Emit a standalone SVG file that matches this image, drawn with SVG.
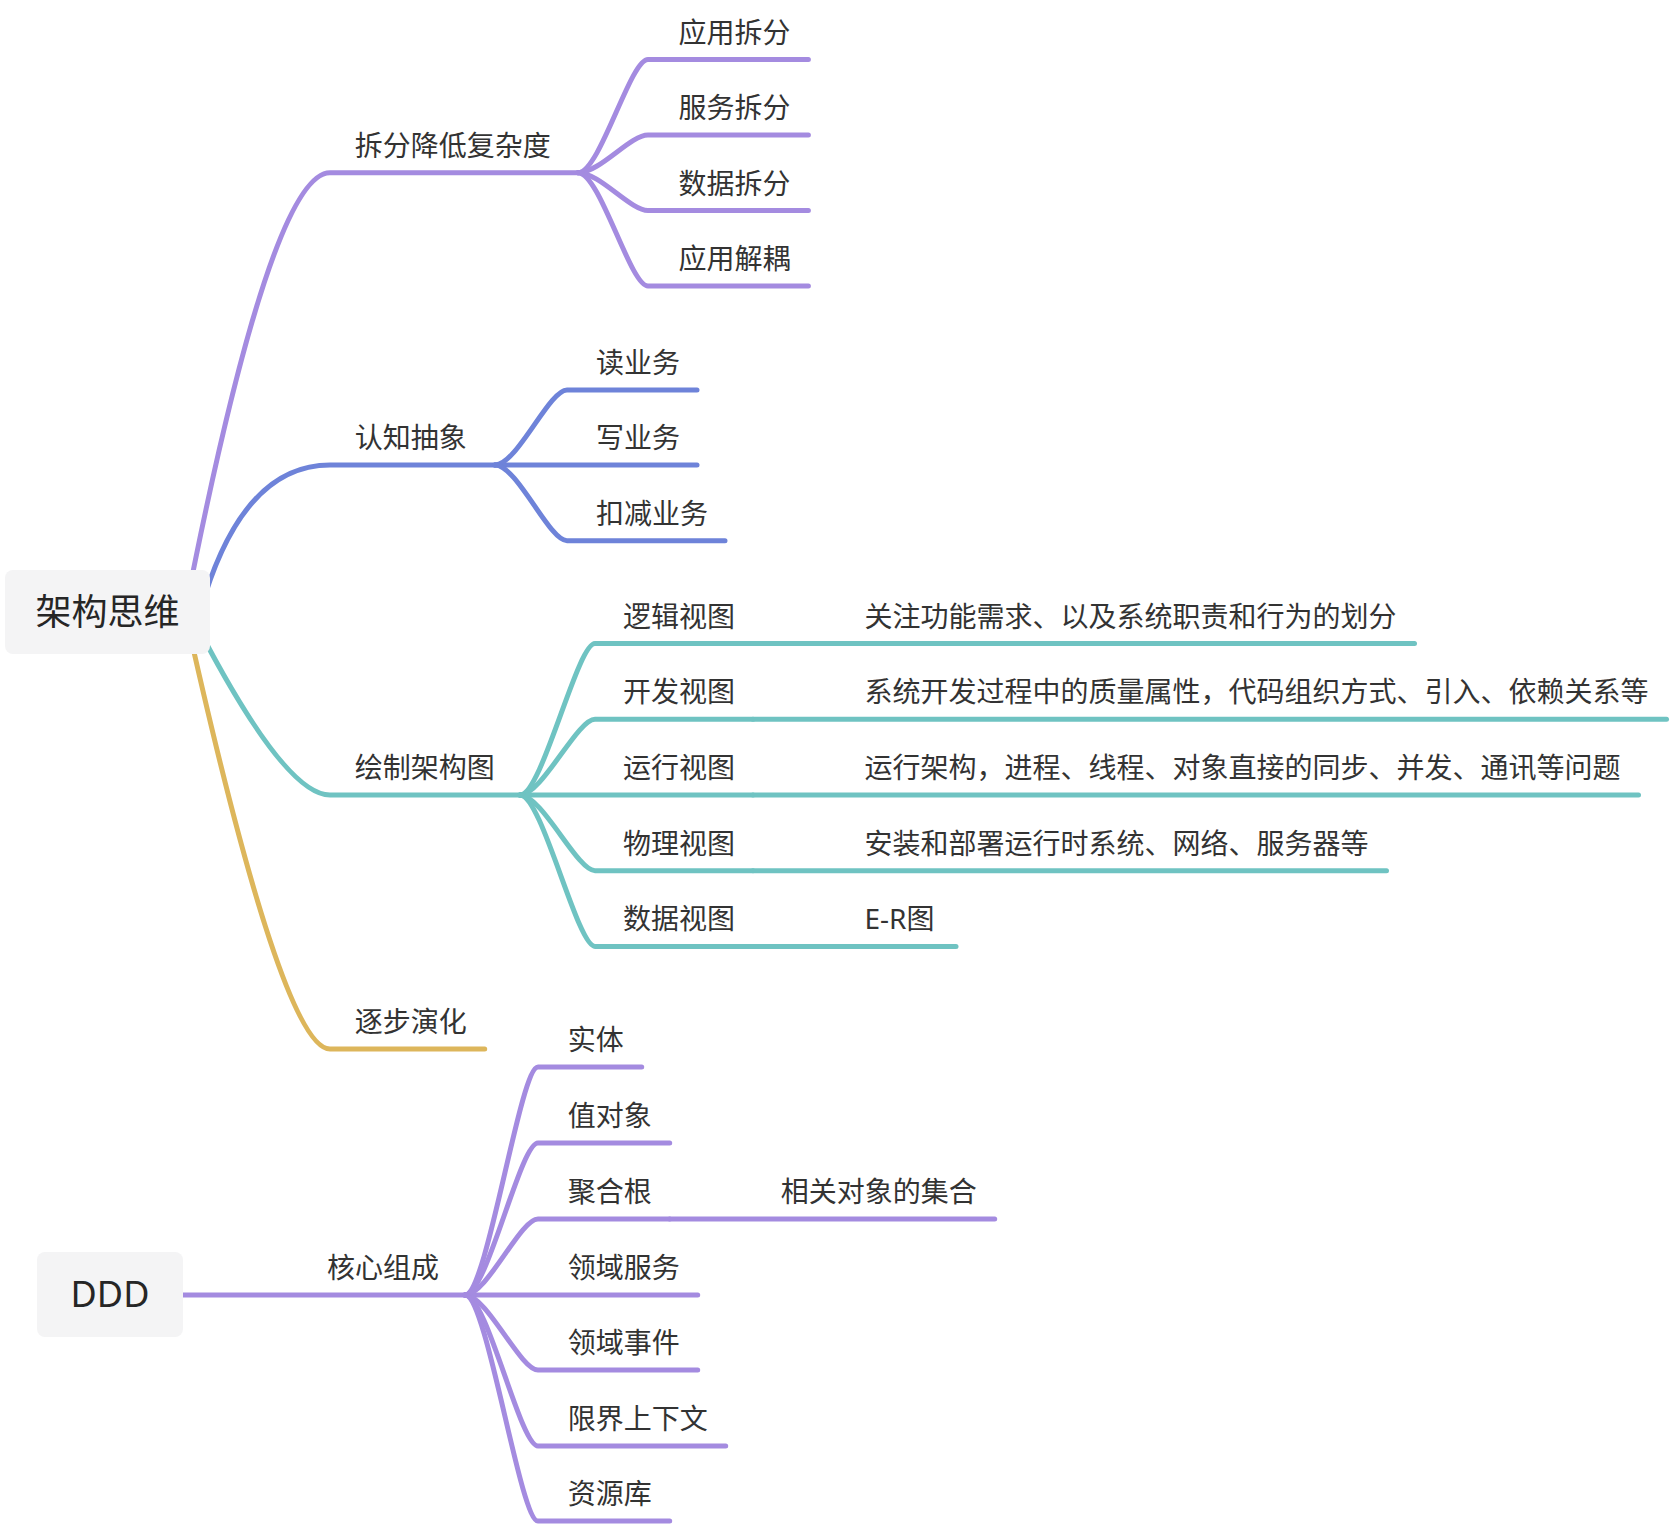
<svg xmlns="http://www.w3.org/2000/svg" width="1670" height="1526" viewBox="0 0 1670 1526">
<style>
.t{font-family:"Noto Sans CJK SC","Liberation Sans",sans-serif;font-size:28px;fill:#333333}
.r{font-family:"Noto Sans CJK SC","Liberation Sans",sans-serif;font-size:36px;fill:#262626;text-anchor:middle}
.l{font-family:"Noto Sans","Noto Sans CJK SC",sans-serif}
.c{fill:none;stroke-width:5;stroke-linecap:round;stroke-linejoin:round}
.p{stroke:#a48be0}
.b{stroke:#6e83d9}
.g{stroke:#6fc3c2}
.y{stroke:#ddb65b}
.box{fill:#f4f4f5}
</style>
<rect width="1670" height="1526" fill="#ffffff"/>
<g id="connectors">
  <path class="c p" d="M185 612 Q271 172.7 330 172.7 L578 172.7"/>
  <path class="c b" d="M200 612 Q241 465 330 465 L495 465"/>
  <path class="c g" d="M190 612 Q283 795 330 795 L520 795"/>
  <path class="c y" d="M185 612 Q282 1049 330 1049 L484.7 1049"/>
  <path class="c p" d="M578 172.7 C600 172.7 630 59.5 648 59.5 L808.4 59.5"/>
  <path class="c p" d="M578 172.7 C600 172.7 630 135 648 135 L808.4 135"/>
  <path class="c p" d="M578 172.7 C600 172.7 630 210.5 648 210.5 L808.4 210.5"/>
  <path class="c p" d="M578 172.7 C600 172.7 630 286 648 286 L808.4 286"/>
  <path class="c b" d="M495 465 C517 465 549 390 567 390 L697 390"/>
  <path class="c b" d="M495 465 L697 465"/>
  <path class="c b" d="M495 465 C517 465 549 540.7 567 540.7 L725 540.7"/>
  <path class="c g" d="M520 795 C542 795 577 643.6 595 643.6 L753 643.6"/>
  <path class="c g" d="M520 795 C542 795 577 719.3 595 719.3 L753 719.3"/>
  <path class="c g" d="M520 795 L753 795"/>
  <path class="c g" d="M520 795 C542 795 577 870.7 595 870.7 L753 870.7"/>
  <path class="c g" d="M520 795 C542 795 577 946.4 595 946.4 L753 946.4"/>
  <path class="c g" d="M753 643.6 L1414.5 643.6"/>
  <path class="c g" d="M753 719.3 L1666.5 719.3"/>
  <path class="c g" d="M753 795 L1638.5 795"/>
  <path class="c g" d="M753 870.7 L1386.5 870.7"/>
  <path class="c g" d="M753 946.4 L956 946.4"/>
  <path class="c p" d="M182 1295 L465 1295"/>
  <path class="c p" d="M465 1295 C487 1295 520 1067 538 1067 L641.7 1067"/>
  <path class="c p" d="M465 1295 C487 1295 520 1143 538 1143 L669.7 1143"/>
  <path class="c p" d="M465 1295 C487 1295 520 1219 538 1219 L669.7 1219"/>
  <path class="c p" d="M465 1295 L697.7 1295"/>
  <path class="c p" d="M465 1295 C487 1295 520 1370 538 1370 L697.7 1370"/>
  <path class="c p" d="M465 1295 C487 1295 520 1446 538 1446 L725.7 1446"/>
  <path class="c p" d="M465 1295 C487 1295 520 1521 538 1521 L669.7 1521"/>
  <path class="c p" d="M669.7 1219 L994.7 1219"/>
</g>
<g id="root">
  <rect class="box" x="5" y="570" width="205" height="84" rx="8"/>
  <text class="r" x="107.5" y="625">架构思维</text>
</g>
<g id="n-split"><text class="t" x="354.7" y="155.7">拆分降低复杂度</text></g>
<g id="n-split-app"><text class="t" x="678.4" y="42.5">应用拆分</text></g>
<g id="n-split-svc"><text class="t" x="678.4" y="118">服务拆分</text></g>
<g id="n-split-data"><text class="t" x="678.4" y="193.5">数据拆分</text></g>
<g id="n-split-decouple"><text class="t" x="678.4" y="269">应用解耦</text></g>
<g id="n-cog"><text class="t" x="354.7" y="448">认知抽象</text></g>
<g id="n-cog-read"><text class="t" x="596" y="373">读业务</text></g>
<g id="n-cog-write"><text class="t" x="596" y="448">写业务</text></g>
<g id="n-cog-deduct"><text class="t" x="596" y="523.7">扣减业务</text></g>
<g id="n-draw"><text class="t" x="354.7" y="778">绘制架构图</text></g>
<g id="n-draw-logic"><text class="t" x="623" y="626.6">逻辑视图</text></g>
<g id="n-draw-logic-d"><text class="t" x="864.5" y="626.6">关注功能需求、以及系统职责和行为的划分</text></g>
<g id="n-draw-dev"><text class="t" x="623" y="702.3">开发视图</text></g>
<g id="n-draw-dev-d"><text class="t" x="864.5" y="702.3">系统开发过程中的质量属性，代码组织方式、引入、依赖关系等</text></g>
<g id="n-draw-run"><text class="t" x="623" y="778">运行视图</text></g>
<g id="n-draw-run-d"><text class="t" x="864.5" y="778">运行架构，进程、线程、对象直接的同步、并发、通讯等问题</text></g>
<g id="n-draw-phys"><text class="t" x="623" y="853.7">物理视图</text></g>
<g id="n-draw-phys-d"><text class="t" x="864.5" y="853.7">安装和部署运行时系统、网络、服务器等</text></g>
<g id="n-draw-data"><text class="t" x="623" y="929.4">数据视图</text></g>
<g id="n-draw-data-d"><text class="t l" x="864.5" y="929.4">E-R图</text></g>
<g id="n-evo"><text class="t" x="354.7" y="1032">逐步演化</text></g>
<g id="ddd">
  <rect class="box" x="37" y="1252" width="146" height="85" rx="8"/>
  <text class="r l" x="110" y="1307">DDD</text>
</g>
<g id="n-core"><text class="t" x="327" y="1278">核心组成</text></g>
<g id="n-entity"><text class="t" x="567.7" y="1050">实体</text></g>
<g id="n-vo"><text class="t" x="567.7" y="1126">值对象</text></g>
<g id="n-agg"><text class="t" x="567.7" y="1202">聚合根</text></g>
<g id="n-agg-d"><text class="t" x="780.7" y="1202">相关对象的集合</text></g>
<g id="n-dsvc"><text class="t" x="567.7" y="1278">领域服务</text></g>
<g id="n-devt"><text class="t" x="567.7" y="1353">领域事件</text></g>
<g id="n-bc"><text class="t" x="567.7" y="1429">限界上下文</text></g>
<g id="n-repo"><text class="t" x="567.7" y="1504">资源库</text></g>
</svg>
